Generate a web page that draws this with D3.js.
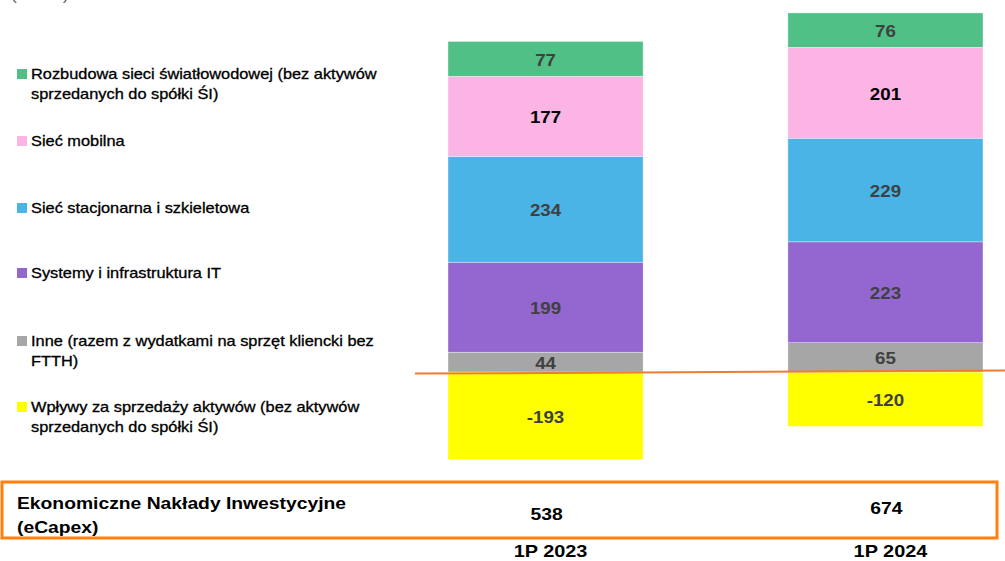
<!DOCTYPE html>
<html><head><meta charset="utf-8">
<script src="https://cdn.jsdelivr.net/npm/d3@7"></script>
<style>body{margin:0;background:#fff}svg{display:block;font-family:"Liberation Sans",Arial,Helvetica,sans-serif}</style>
</head><body><svg id="c" width="1005" height="561"></svg>
<script>
const categories = ["1P 2023", "1P 2024"];
const seriesNames = [
  ["Rozbudowa sieci światłowodowej (bez aktywów", "sprzedanych do spółki ŚI)"],
  ["Sieć mobilna"],
  ["Sieć stacjonarna i szkieletowa"],
  ["Systemy i infrastruktura IT"],
  ["Inne (razem z wydatkami na sprzęt kliencki bez", "FTTH)"],
  ["Wpływy za sprzedaży aktywów (bez aktywów", "sprzedanych do spółki ŚI)"]
];
const seriesColors = ["#50C087", "#FBB4E4", "#4AB4E6", "#9367CF", "#A6A6A6", "#FFFF00"];
const labelColors = ["#404040", "#000000", "#404040", "#404040", "#404040", "#404040"];
// values per series, [1P 2023, 1P 2024]
const vFiber = [77, 76];
const vMobile = [177, 201];
const vFixed = [234, 229];
const vIT = [199, 223];
const vOther = [44, 65];
const vSales = [-193, -120];
const eCapex = [538, 674];
const unitLabel = "(mln zł)";
const tableLabel = ["Ekonomiczne Nakłady Inwestycyjne", "(eCapex)"];

const seriesValues = [vFiber, vMobile, vFixed, vIT, vOther, vSales];
const svg = d3.select("#c");
const SX = 1.17; // horizontal stretch of the reference's typography

const x = d3.scaleBand().domain(categories).range([448, 983]).paddingInner(0.426).paddingOuter(0);
const y = d3.scaleLinear().domain([-200, 825]).range([462.6, -1.1]);

// stacking: positives from bottom (Inne) upward
const stackOrder = [4, 3, 2, 1, 0];
const segs = [];
categories.forEach((c, ci) => {
  let base = 0;
  stackOrder.forEach(si => {
    const v = seriesValues[si][ci];
    segs.push({c, si, v, y0: base, y1: base + v});
    base += v;
  });
  const nv = vSales[ci];
  segs.push({c, si: 5, v: nv, y0: nv, y1: 0});
});

const g = svg.append("g");
g.selectAll("rect.seg").data(segs).join("rect")
  .attr("class", "seg")
  .attr("x", d => x(d.c))
  .attr("width", x.bandwidth())
  .attr("y", d => y(Math.max(d.y0, d.y1)))
  .attr("height", d => Math.abs(y(d.y0) - y(d.y1)))
  .attr("fill", d => seriesColors[d.si])
  .attr("stroke", "#ffffff").attr("stroke-width", 0.6).attr("stroke-opacity", 0.6);

g.selectAll("text.val").data(segs).join("text")
  .attr("class", "val")
  .attr("transform", d => `translate(${x(d.c) + x.bandwidth() / 2},${(y(d.y0) + y(d.y1)) / 2 + 1}) scale(${SX},1)`)
  .attr("dy", "0.36em")
  .attr("text-anchor", "middle")
  .attr("font-size", 16).attr("font-weight", "bold")
  .attr("fill", d => labelColors[d.si])
  .text(d => d.v);

// orange baseline
svg.append("line").attr("x1", 415).attr("x2", 1005)
  .attr("y1", y(0) + 1.5).attr("y2", y(0) - 1.5)
  .attr("stroke", "#ED7D31").attr("stroke-width", 2);

// legend
const legendY = [79, 146, 213, 278, 346, 412];
const lg = svg.append("g");
seriesNames.forEach((lines, i) => {
  lg.append("rect").attr("x", 17).attr("y", legendY[i] - 10).attr("width", 10).attr("height", 10)
    .attr("fill", seriesColors[i]);
  const t = lg.append("text").attr("transform", `translate(31,${legendY[i]}) scale(${SX},1)`)
    .attr("font-size", 14).attr("fill", "#000").attr("stroke", "#000").attr("stroke-width", 0.3);
  lines.forEach((l, j) => t.append("tspan").attr("x", 0).attr("dy", j ? 20.5 : 0).text(l));
});

// unit label (cut off at top, as in the reference)
svg.append("text").attr("transform", `translate(11,-0.5) scale(${SX},1)`)
  .attr("font-size", 15).attr("fill", "#595959").text(unitLabel);

// eCapex box
svg.append("rect").attr("x", 2).attr("y", 482).attr("width", 995).attr("height", 56)
  .attr("fill", "none").attr("stroke", "#FF7F0F").attr("stroke-width", 3);
const tl = svg.append("text").attr("transform", `translate(17,509) scale(${SX},1)`)
  .attr("font-size", 16.5).attr("font-weight", "bold").attr("fill", "#000");
tableLabel.forEach((l, j) => tl.append("tspan").attr("x", 0).attr("dy", j ? 24 : 0).text(l));

svg.selectAll("text.ecap").data(categories).join("text")
  .attr("class", "ecap")
  .attr("transform", (d, i) => `translate(${x(d) + x.bandwidth() / 2 + 1},${[520, 514][i]}) scale(${SX},1)`)
  .attr("text-anchor", "middle").attr("font-size", 16.5).attr("font-weight", "bold").attr("fill", "#000")
  .text((d, i) => eCapex[i]);

// category axis
const xAxis = d3.axisBottom(x).tickSize(0).tickPadding(0);
const ax = svg.append("g").attr("transform", "translate(5,545)").call(xAxis);
ax.select(".domain").remove();
ax.selectAll("text").attr("font-size", 17).attr("font-weight", "bold").attr("fill", "#000")
  .attr("font-family", "'Liberation Sans',Arial,sans-serif")
  .attr("transform", `scale(${SX},1)`);
</script></body></html>
